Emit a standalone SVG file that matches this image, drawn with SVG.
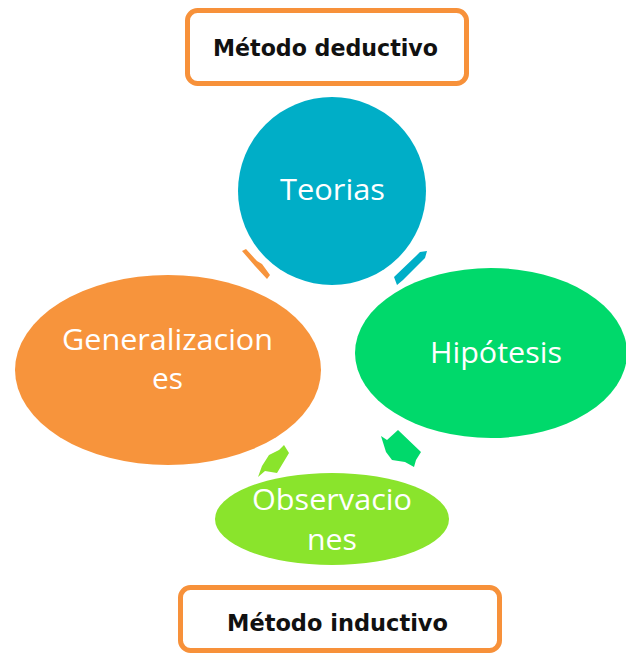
<svg xmlns="http://www.w3.org/2000/svg" width="626" height="654" viewBox="0 0 626 654">
<style>
.box{fill:#fff;stroke:#F7913A;stroke-width:5}
.bt{font-family:"DejaVu Sans","Liberation Sans",sans-serif;font-weight:bold;font-size:23px;fill:#111}
.lbl{font-family:"Open Sans","Noto Sans",sans-serif;font-size:29px;fill:#fff}
</style>
<rect width="626" height="654" fill="#fff"/>
<g id="connectors">
<polygon points="242,251 246,249 257,261 262,264 270,275 267,279 255,266" fill="#F7943C"/>
<polygon points="394,277 416,256 420,252 427,251 425,258 403,280 397,285" fill="#00AEC7"/>
<polygon points="381,436 387,440 398,430 421,452 416,460 414,467 405,462 392,460 386,452" fill="#00D96B"/>
<polygon points="258,477 262,466 269,455 279,450 284,445 289,453 277,473 265,471" fill="#8AE42C"/>
</g>
<g id="deductivo">
<rect class="box" x="187.5" y="10.5" width="279" height="73" rx="10"/>
<text class="bt" x="213" y="56" textLength="225" lengthAdjust="spacingAndGlyphs">Método deductivo</text>
</g>
<g id="teorias">
<circle cx="332" cy="191" r="94" fill="#00AEC7"/>
<text class="lbl" x="280" y="200" textLength="105" lengthAdjust="spacingAndGlyphs">Teorias</text>
</g>
<g id="generalizaciones">
<ellipse cx="168" cy="370" rx="153" ry="95" fill="#F7943C"/>
<text class="lbl" x="62" y="350" textLength="211" lengthAdjust="spacingAndGlyphs">Generalizacion</text>
<text class="lbl" x="152" y="389" textLength="31" lengthAdjust="spacingAndGlyphs">es</text>
</g>
<g id="hipotesis">
<ellipse cx="491" cy="353" rx="136" ry="85" fill="#00D96B"/>
<text class="lbl" x="430" y="363" textLength="132" lengthAdjust="spacingAndGlyphs">Hipótesis</text>
</g>
<g id="observaciones">
<ellipse cx="332" cy="519" rx="117" ry="46" fill="#8AE42C"/>
<text class="lbl" x="252" y="510" textLength="160" lengthAdjust="spacingAndGlyphs">Observacio</text>
<text class="lbl" x="307" y="550" textLength="50" lengthAdjust="spacingAndGlyphs">nes</text>
</g>
<g id="inductivo">
<rect class="box" x="180.5" y="587.5" width="319" height="63" rx="10"/>
<text class="bt" x="227" y="631" textLength="221" lengthAdjust="spacingAndGlyphs">Método inductivo</text>
</g>
</svg>
